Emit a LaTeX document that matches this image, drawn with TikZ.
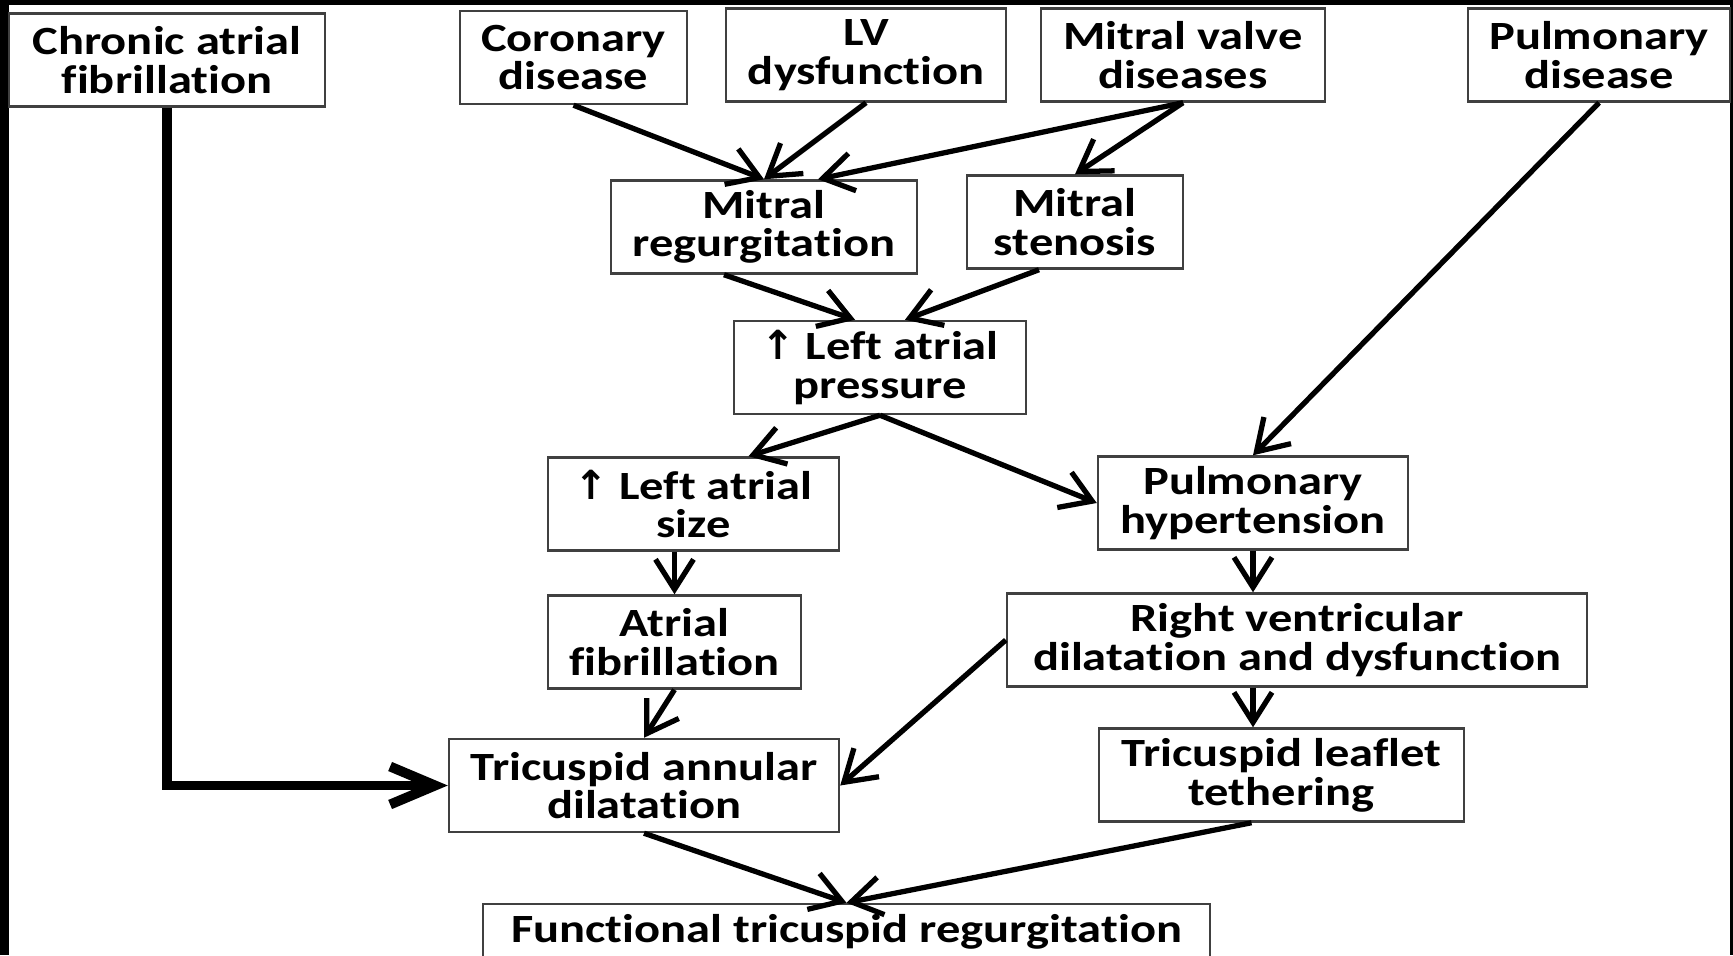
\documentclass[tikz,border=0pt]{standalone}
\usepackage{fontspec}
\setmainfont{Carlito}[FakeStretch=1.21, Ligatures=CommonOff]
\newfontfamily\arrowfont{DejaVu Sans}
\usetikzlibrary{arrows.meta, calc}

\begin{document}
\begin{tikzpicture}[box/.style={draw=black!75, line width=0.7pt, align=center, minimum height=9.3mm, inner sep=0pt, font=\fontsize{11.4}{11}\selectfont\bfseries},
  arr/.style={-{Straight Barb[length=3mm, width=3.8mm]}, line width=1.5pt},
  bigarr/.style={-{Straight Barb[length=4.5mm, width=3.8mm]}, line width=2.8pt}]
  \path[use as bounding box, fill=black] (0,0) rectangle (17.33,9.55);
  \fill[white] (0.088,0) rectangle (17.30,9.50);
  \clip (0,0) rectangle (17.33,9.55);

  \node[box, minimum width=3.16cm] (caf) at (1.67,8.95) {Chronic atrial\\fibrillation};
  \node[box, minimum width=2.27cm] (cor) at (5.735,8.975) {Coronary\\disease};
  \node[box, minimum width=2.80cm] (lvd) at (8.66,9.00) {LV\\dysfunction};
  \node[box, minimum width=2.84cm] (mvd) at (11.83,9.00) {Mitral valve\\diseases};
  \node[box, minimum width=2.62cm] (pud) at (15.99,9.00) {Pulmonary\\disease};

  \node[box, minimum width=3.06cm] (mr) at (7.64,7.28) {Mitral\\regurgitation};
  \node[box, minimum width=2.16cm] (ms) at (10.75,7.33) {Mitral\\stenosis};
  \node[box, minimum width=2.92cm] (lap) at (8.80,5.875) {{\arrowfont ↑} Left atrial\\pressure};

  \node[box, minimum width=2.91cm] (las) at (6.935,4.51) {{\arrowfont ↑} Left atrial\\size};
  \node[box, minimum width=3.10cm] (ph) at (12.53,4.52) {Pulmonary\\hypertension};
  \node[box, minimum width=2.53cm] (af) at (6.745,3.13) {Atrial\\fibrillation};
  \node[box, minimum width=5.80cm] (rv) at (12.97,3.15) {Right ventricular\\dilatation and dysfunction};
  \node[box, minimum width=3.90cm] (tad) at (6.44,1.695) {Tricuspid annular\\dilatation};
  \node[box, minimum width=3.65cm] (tlt) at (12.815,1.80) {Tricuspid leaflet\\tethering};
  \node[box, minimum width=7.27cm, minimum height=5.6mm] (ftr) at (8.465,0.23) {Functional tricuspid regurgitation};

  \draw[bigarr] (caf.south) |- (tad.west);

  \draw[arr] (cor.south) -- (mr.north);
  \draw[arr] (lvd.south) -- (mr.north);
  \draw[arr] (mvd.south) -- ([xshift=5.4mm]mr.north);
  \draw[arr] (mvd.south) -- (ms.north);
  \draw[arr] ([xshift=-4mm]mr.south) -- ([xshift=-2.5mm]lap.north);
  \draw[arr] ([xshift=-3.6mm]ms.south) -- ([xshift=2.5mm]lap.north);
  \draw[arr] (lap.south) -- ([xshift=5.5mm]las.north);
  \draw[arr] (lap.south) -- (ph.west);
  \draw[arr] (pud.south) -- (ph.north);
  \draw[arr] (las.south -| af.north) -- (af.north);
  \draw[arr] (ph.south) -- (ph.south |- rv.north);
  \draw[arr] (af.south) -- (tad.north);
  \draw[arr] (rv.west) -- (tad.east);
  \draw[arr] (ph.south |- rv.south) -- (ph.south |- tlt.north);
  \draw[arr] (tad.south) -- (ftr.north);
  \draw[arr] ([xshift=-3mm]tlt.south) -- (ftr.north);
\end{tikzpicture}
\end{document}
